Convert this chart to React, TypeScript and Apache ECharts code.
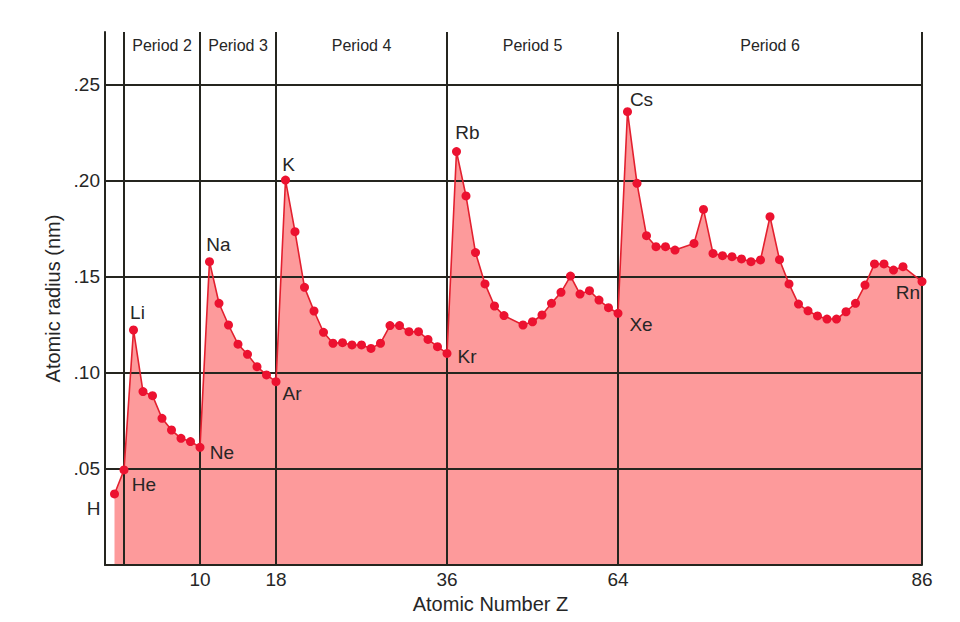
import React, { useEffect, useRef } from 'react';
import * as echarts from 'echarts';

// Atomic numbers with available radius data (Tc 43, Pm 61, At 85 absent)
const atomicNumbers = [
  1, 2, 3, 4, 5, 6, 7, 8, 9, 10,
  11, 12, 13, 14, 15, 16, 17, 18,
  19, 20, 21, 22, 23, 24, 25, 26, 27, 28, 29, 30, 31, 32, 33, 34, 35, 36,
  37, 38, 39, 40, 41, 42, 44, 45, 46, 47, 48, 49, 50, 51, 52, 53, 54,
  55, 56, 57, 58, 59, 60, 62, 63, 64, 65, 66, 67, 68, 69, 70, 71,
  72, 73, 74, 75, 76, 77, 78, 79, 80, 81, 82, 83, 84, 86,
];
const atomicRadii = [
  0.037, 0.0495, 0.1224, 0.0903, 0.0882, 0.0764, 0.0703, 0.066, 0.0643, 0.0613,
  0.158, 0.1363, 0.125, 0.115, 0.1097, 0.1033, 0.099, 0.0955,
  0.2005, 0.1736, 0.1446, 0.1323, 0.1212, 0.1155, 0.1158, 0.1146, 0.1146, 0.1128, 0.1155, 0.1247, 0.1247, 0.1215, 0.1215, 0.1175, 0.1137, 0.1102,
  0.2153, 0.1922, 0.1627, 0.1464, 0.1349, 0.1299, 0.125, 0.1267, 0.1302, 0.1363, 0.142, 0.1505, 0.1411, 0.1429, 0.138, 0.134, 0.1311,
  0.2361, 0.1988, 0.1715, 0.1658, 0.1658, 0.164, 0.1675, 0.1852, 0.1623, 0.1611, 0.1606, 0.1594, 0.158, 0.1589, 0.1814, 0.159,
  0.1464, 0.1359, 0.1324, 0.1297, 0.1281, 0.1281, 0.1319, 0.1363, 0.1458, 0.1568, 0.1568, 0.1536, 0.1554, 0.1476,
];
const labeledZ = [1, 2, 3, 10, 11, 18, 19, 36, 37, 54, 55, 86];
const labeledSymbols = ['H', 'He', 'Li', 'Ne', 'Na', 'Ar', 'K', 'Kr', 'Rb', 'Xe', 'Cs', 'Rn'];
const periodNames = ['Period 2', 'Period 3', 'Period 4', 'Period 5', 'Period 6'];
const periodStarts = [2, 10, 18, 36, 54];
const periodEnds = [10, 18, 36, 54, 86];
const boundaryZ = [2, 10, 18, 36, 54, 86];
const yGridValues = [0.05, 0.1, 0.15, 0.2, 0.25];
const xTickValues = [10, 18, 36, 54, 86];
const xTickLabels = ['10', '18', '36', '64', '86'];

// label placement (style)
const labelOffsets: Record<string, [number, number]> = {
  H: [-21, 15],
  He: [20, 15],
  Li: [4, -17],
  Ne: [22, 5],
  Na: [9, -17],
  Ar: [16, 12],
  K: [3, -16],
  Kr: [20, 3],
  Rb: [11, -19],
  Xe: [23, 11],
  Cs: [14, -12],
  Rn: [-14, 11],
};

const FONT = '"Liberation Sans", Arial, Helvetica, sans-serif';
const TEXT = '#262626';
const LINE = '#25251f';

export default function App() {
  const ref = useRef<HTMLDivElement>(null);

  useEffect(() => {
    document.body.style.margin = '0';
    if (!ref.current) return;
    const chart = echarts.init(ref.current, undefined, { renderer: 'svg' });

    const points = atomicNumbers.map((z, i) => {
      const idx = labeledZ.indexOf(z);
      if (idx < 0) return { value: [z, atomicRadii[i]] };
      const sym = labeledSymbols[idx];
      return {
        value: [z, atomicRadii[i]],
        label: {
          show: true,
          formatter: sym,
          position: 'inside',
          offset: labelOffsets[sym],
          color: TEXT,
          fontSize: 19,
          fontFamily: FONT,
        },
      };
    });

    const xLabelFor = (v: number) => {
      const i = xTickValues.indexOf(Math.round(v));
      return i >= 0 && Math.abs(v - Math.round(v)) < 1e-6 ? xTickLabels[i] : '';
    };

    chart.setOption({
      animation: false,
      backgroundColor: '#ffffff',
      grid: { left: 105, right: 38, top: 32, bottom: 57, containLabel: false },
      xAxis: {
        type: 'value',
        min: 0,
        max: 86,
        interval: 2,
        z: 6,
        name: 'Atomic Number Z',
        nameLocation: 'middle',
        nameGap: 29,
        nameTextStyle: { color: TEXT, fontSize: 20, fontFamily: FONT, padding: [0, 46, 0, 0] },
        axisLine: { show: true, lineStyle: { color: LINE, width: 2 } },
        axisTick: { show: false },
        splitLine: { show: false },
        axisLabel: {
          show: true,
          margin: 5,
          color: TEXT,
          fontSize: 19,
          fontFamily: FONT,
          showMaxLabel: true,
          showMinLabel: true,
          formatter: (v: number) => xLabelFor(v),
        },
      },
      yAxis: {
        type: 'value',
        min: 0,
        max: 0.2776,
        interval: 0.05,
        z: 6,
        name: 'Atomic radius (nm)',
        nameLocation: 'middle',
        nameGap: 36,
        nameRotate: 90,
        nameTextStyle: { color: TEXT, fontSize: 20, fontFamily: FONT },
        axisLine: { show: true, lineStyle: { color: LINE, width: 2 } },
        axisTick: { show: false },
        splitLine: { show: false },
        axisLabel: {
          show: true,
          margin: 5,
          color: TEXT,
          fontSize: 19,
          fontFamily: FONT,
          formatter: (v: number) => {
            const k = Math.round(v * 100);
            if (k === 0 || k % 5 !== 0 || Math.abs(v * 100 - k) > 0.01) return '';
            return '.' + String(k).padStart(2, '0');
          },
        },
      },
      series: [
        {
          type: 'line',
          z: 1,
          silent: true,
          data: atomicNumbers.map((z, i) => [z, atomicRadii[i]]),
          showSymbol: false,
          symbol: 'none',
          lineStyle: { width: 0 },
          areaStyle: { color: '#fd9a9b', opacity: 1 },
          markArea: {
            silent: true,
            itemStyle: { color: 'rgba(0,0,0,0)' },
            label: {
              show: true,
              position: 'insideTop',
              distance: 5,
              color: TEXT,
              fontSize: 16,
              fontFamily: FONT,
            },
            data: periodNames.map((n, i) => [
              { xAxis: periodStarts[i], name: n },
              { xAxis: periodEnds[i] },
            ]),
          },
          markLine: {
            silent: true,
            symbol: 'none',
            z: 5,
            label: { show: false },
            lineStyle: { color: LINE, width: 2, type: 'solid' },
            data: [
              ...boundaryZ.map((z) => ({ xAxis: z })),
              ...yGridValues.map((y) => ({ yAxis: y })),
            ],
          },
        },
        {
          type: 'line',
          z: 10,
          data: points,
          symbol: 'circle',
          symbolSize: 9,
          showSymbol: true,
          itemStyle: { color: '#ec1230' },
          lineStyle: { color: '#e3202f', width: 1.6 },
        },
      ],
    });

    return () => chart.dispose();
  }, []);

  return <div ref={ref} style={{ width: 960, height: 622 }} />;
}
